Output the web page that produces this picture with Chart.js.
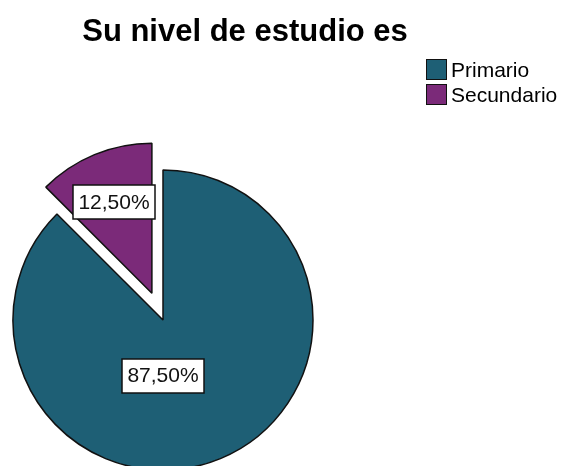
<!DOCTYPE html>
<html lang="es">
<head>
<meta charset="utf-8">
<title>Su nivel de estudio es</title>
<script src="https://cdn.jsdelivr.net/npm/chart.js@4.4.1/dist/chart.umd.min.js"></script>
<style>
    html, body { margin: 0; padding: 0; background: #fff; }
    #wrap {
        position: relative;
        width: 562px;
        height: 466px;
        overflow: hidden;
        font-family: Arial, "Liberation Sans", sans-serif;
    }
    #nivelChart { position: absolute; left: 0; top: 0; }
    #titulo {
        position: absolute;
        left: 0;
        top: 13px;
        width: 490px;
        text-align: center;
        font-size: 31px;
        font-weight: bold;
        line-height: 35px;
        color: #000;
    }
    #leyenda {
        position: absolute;
        left: 426px;
        top: 57px;
        margin: 0;
        padding: 0;
        list-style: none;
    }
    #leyenda li {
        display: flex;
        align-items: center;
        height: 25px;
        font-size: 21px;
        color: #000;
    }
    #leyenda .caja {
        width: 19px;
        height: 19px;
        border: 1.5px solid #111;
        margin-right: 4px;
    }
</style>
</head>
<body>
<div id="wrap">
    <canvas id="nivelChart" width="562" height="466"></canvas>
    <div id="titulo">Su nivel de estudio es</div>
    <ul id="leyenda"></ul>
</div>
<script>
// Datos del gráfico
const categorias = ['Primario', 'Secundario'];
const valores = [87.5, 12.5];
const colores = ['#1e5f75', '#7b2a79'];
// Separación (px) de cada porción respecto al centro
const separacion = [0, 29];
// Ubicación de cada etiqueta: ángulo en grados (null = bisectriz) y fracción del radio
const ubicacionEtiquetas = [
    { angulo: 90, dist: 0.37 },
    { angulo: null, dist: 0.66 }
];

function formatPorcentaje(v) {
    return v.toFixed(2).replace('.', ',') + '%';
}

// Desplaza las porciones separadas a lo largo de su bisectriz
const separarPlugin = {
    id: 'separar',
    afterDatasetUpdate(chart, args) {
        args.meta.data.forEach((arc, i) => {
            const d = separacion[i] || 0;
            if (!d) return;
            const mid = (arc.startAngle + arc.endAngle) / 2;
            arc.x += Math.cos(mid) * d;
            arc.y += Math.sin(mid) * d;
        });
    }
};

// Etiquetas de porcentaje en recuadro blanco
const etiquetasPlugin = {
    id: 'etiquetas',
    afterDatasetsDraw(chart) {
        const ctx = chart.ctx;
        const meta = chart.getDatasetMeta(0);
        ctx.save();
        ctx.font = '21px Arial, "Liberation Sans", sans-serif';
        ctx.textAlign = 'center';
        ctx.textBaseline = 'middle';
        meta.data.forEach((arc, i) => {
            const u = ubicacionEtiquetas[i];
            const mid = (arc.startAngle + arc.endAngle) / 2;
            const ang = u.angulo === null ? mid : u.angulo * Math.PI / 180;
            const r = arc.outerRadius * u.dist;
            const x = arc.x + Math.cos(ang) * r;
            const y = arc.y + Math.sin(ang) * r;
            const texto = formatPorcentaje(valores[i]);
            const w = ctx.measureText(texto).width + 11;
            const h = 34;
            ctx.fillStyle = '#fff';
            ctx.fillRect(Math.round(x - w / 2), Math.round(y - h / 2), Math.round(w), h);
            ctx.strokeStyle = '#111';
            ctx.lineWidth = 1.5;
            ctx.strokeRect(Math.round(x - w / 2), Math.round(y - h / 2), Math.round(w), h);
            ctx.fillStyle = '#111';
            ctx.fillText(texto, x, y + 1);
        });
        ctx.restore();
    }
};

function crearLeyenda() {
    const ul = document.getElementById('leyenda');
    categorias.forEach((cat, i) => {
        const li = document.createElement('li');
        const caja = document.createElement('span');
        caja.className = 'caja';
        caja.style.background = colores[i];
        li.appendChild(caja);
        li.appendChild(document.createTextNode(cat));
        ul.appendChild(li);
    });
}

const nivelChart = new Chart(document.getElementById('nivelChart'), {
    type: 'pie',
    data: {
        labels: categorias,
        datasets: [{
            data: valores,
            backgroundColor: colores,
            borderColor: '#111',
            borderWidth: 1.5,
            radius: 150,
            clip: false
        }]
    },
    options: {
        responsive: false,
        animation: false,
        events: [],
        layout: {
            padding: { left: 0, right: 236, top: 174, bottom: 0 }
        },
        plugins: {
            legend: { display: false },
            title: { display: false },
            tooltip: { enabled: false }
        }
    },
    plugins: [separarPlugin, etiquetasPlugin]
});

crearLeyenda();
</script>
</body>
</html>
